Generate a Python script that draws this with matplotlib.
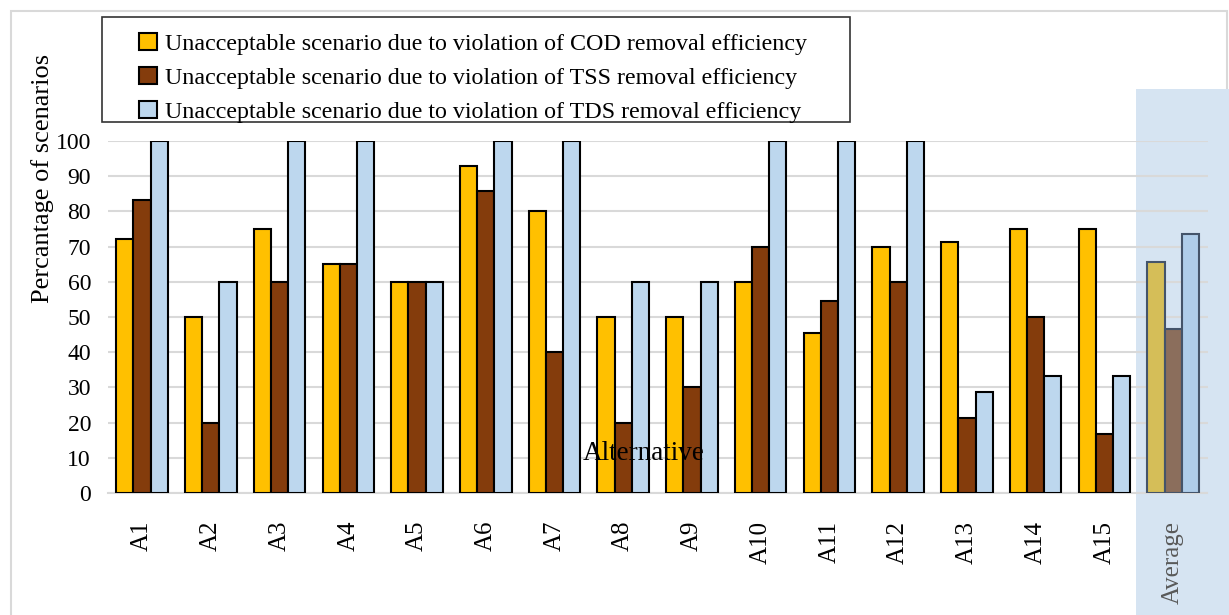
import numpy as np
import matplotlib
matplotlib.use("Agg")
import matplotlib.pyplot as plt
from matplotlib.patches import Rectangle, Patch

plt.rcParams['font.family'] = ['Liberation Serif', 'DejaVu Serif']

# Data
alternatives = ["A1", "A2", "A3", "A4", "A5", "A6", "A7", "A8", "A9", "A10",
                "A11", "A12", "A13", "A14", "A15", "Average"]
cod = [72.2, 50, 75, 65, 60, 92.9, 80, 50, 50, 60, 45.5, 70, 71.4, 75, 75, 65.5]
tss = [83.3, 20, 60, 65, 60, 85.7, 40, 20, 30, 70, 54.5, 60, 21.4, 50, 16.7, 46.5]
tds = [100, 60, 100, 100, 60, 100, 100, 60, 60, 100, 100, 100, 28.6, 33.3, 33.3, 73.6]

labels = ["Unacceptable scenario due to violation of COD removal efficiency",
          "Unacceptable scenario due to violation of TSS removal efficiency",
          "Unacceptable scenario due to violation of TDS removal efficiency"]
colors = ["#FFC000", "#843C0C", "#BDD7EE"]
avg_colors = ["#D5BE58", "#8B6E5C", "#AFCDEA"]

W, H = 1229, 615
fig = plt.figure(figsize=(W / 100, H / 100), dpi=100)

# light frame around the chart
fig.patches.append(Rectangle((11 / W, -0.01), (W - 13) / W, 1 - 11 / H + 0.01,
                             transform=fig.transFigure, fill=False,
                             edgecolor="#D9D9D9", linewidth=1.5, zorder=-2))
# shaded band behind the Average group
fig.patches.append(Rectangle((1136 / W, 0), (1229 - 1136) / W, (H - 89) / H,
                             transform=fig.transFigure, facecolor="#D6E4F2",
                             edgecolor="none", zorder=-1))
# legend box
fig.patches.append(Rectangle((102 / W, 1 - 122 / H), (850 - 102) / W, 105 / H,
                             transform=fig.transFigure, fill=False,
                             edgecolor="#333333", linewidth=1.2, zorder=-1))

ax = fig.add_axes([107.7 / W, 122 / H, (1207.5 - 107.7) / W, 352 / H])
ax.set_zorder(2)
ax.patch.set_alpha(0)

x = np.arange(len(alternatives))
w = 0.25
n = len(alternatives) - 1
for i, (vals, col, acol) in enumerate(zip([cod, tss, tds], colors, avg_colors)):
    pos = x + (i - 1) * w
    ax.bar(pos[:n], vals[:n], w, color=col, edgecolor="black", linewidth=1.5, zorder=3)
    ax.bar(pos[n:], vals[n:], w, color=acol, edgecolor="#44546A", linewidth=1.5, zorder=3)

ax.set_xlim(-0.5, len(alternatives) - 0.5)
ax.set_ylim(0, 100)
ax.set_yticks(np.arange(0, 101, 10))
ax.yaxis.grid(True, color="#D9D9D9", linewidth=1.5, zorder=0)
ax.set_axisbelow(True)
for s in ["left", "right", "top"]:
    ax.spines[s].set_visible(False)
ax.spines["bottom"].set_color("#D9D9D9")
ax.spines["bottom"].set_linewidth(1.5)
ax.tick_params(axis="y", length=0, labelsize=17, pad=12)
ax.tick_params(axis="x", length=0, labelsize=18, pad=20)
ax.set_xticks(x)
ax.set_xticklabels(alternatives, rotation=90, va="top", ha="center")
ax.get_xticklabels()[-1].set_color("#595959")

ax.text(7.3, 11.1, "Alternative", fontsize=19.5, ha="center", va="center", zorder=5)
fig.text(43 / W, 1 - 178 / H, "Percantage of scenarios", rotation=90,
         fontsize=19, ha="center", va="center")

handles = [Patch(facecolor=c, edgecolor="black", linewidth=1.5) for c in colors]
leg = fig.legend(handles, labels, loc="upper left",
                 bbox_to_anchor=(134 / W, 1 - 28 / H), borderaxespad=0,
                 fontsize=17.3, frameon=False,
                 handlelength=0.75, handleheight=0.75, handletextpad=0.35,
                 labelspacing=0.49, borderpad=0.2)

fig.savefig("out.png", dpi=100)
